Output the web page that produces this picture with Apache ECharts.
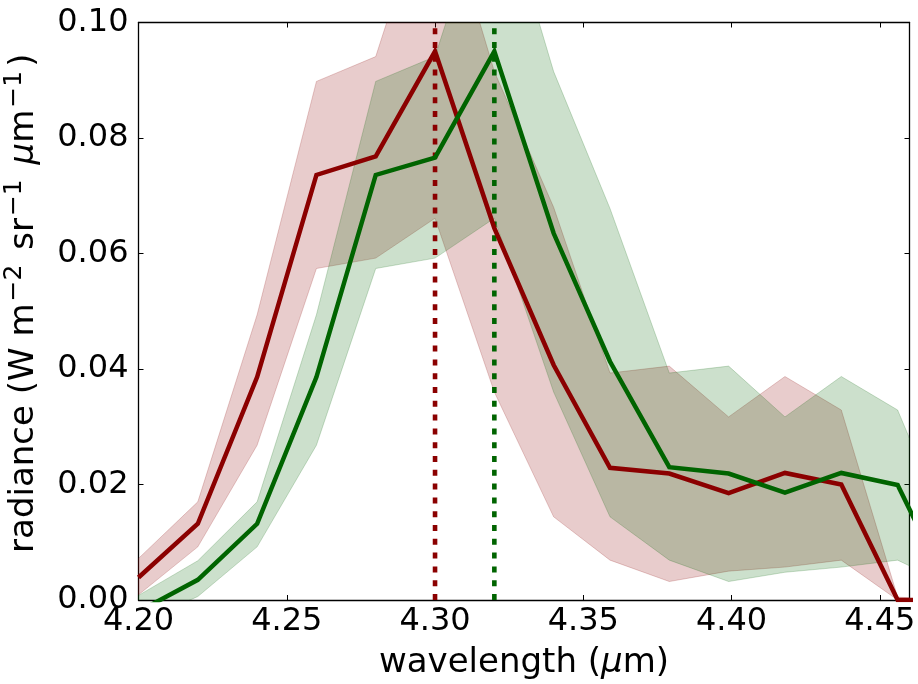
<!DOCTYPE html>
<html>
<head>
<meta charset="utf-8">
<script src="https://cdn.jsdelivr.net/npm/echarts@6/dist/echarts.min.js"></script>
<style>
html,body{margin:0;padding:0;background:#fff;}
#chart{width:918px;height:684px;}
</style>
</head>
<body>
<div id="chart"></div>
<script>
// ---- data ----
const wavelength = [4.20, 4.22, 4.24, 4.26, 4.28, 4.30, 4.32, 4.34, 4.359, 4.379, 4.399, 4.418, 4.437, 4.456, 4.475];

const redMean  = [0.0039, 0.0132, 0.0386, 0.0736, 0.0768, 0.0950, 0.0644, 0.0407, 0.0229, 0.0219, 0.0185, 0.0220, 0.0200, 0.0000, 0.0000];
const redUpper = [0.0072, 0.0170, 0.0494, 0.0898, 0.0941, 0.1260, 0.0915, 0.0680, 0.0393, 0.0405, 0.0317, 0.0387, 0.0329, 0.0005, 0.0000];
const redLower = [0.0009, 0.0092, 0.0268, 0.0574, 0.0592, 0.0661, 0.0360, 0.0144, 0.0069, 0.0032, 0.0050, 0.0057, 0.0069, 0.0000, 0.0000];

const greenMean  = [-0.0020, 0.0035, 0.0132, 0.0386, 0.0736, 0.0766, 0.0950, 0.0635, 0.0413, 0.0230, 0.0219, 0.0186, 0.0220, 0.0199, 0.0000];
const greenUpper = [0.0008, 0.0068, 0.0170, 0.0494, 0.0898, 0.0941, 0.1260, 0.0915, 0.0678, 0.0393, 0.0405, 0.0317, 0.0387, 0.0329, 0.0097];
const greenLower = [-0.0040, 0.0006, 0.0092, 0.0268, 0.0574, 0.0592, 0.0661, 0.0360, 0.0144, 0.0069, 0.0032, 0.0048, 0.0057, 0.0069, 0.0022];

const peakWavelengths = [4.30, 4.32];

const xTickLabels = ['4.20', '4.25', '4.30', '4.35', '4.40', '4.45'];
const yTickLabels = ['0.00', '0.02', '0.04', '0.06', '0.08', '0.10'];

const xMin = 4.20, xMax = 4.46, xStep = 0.05;
const yMin = 0.00, yMax = 0.10, yStep = 0.02;

const RED = '#8b0000';
const GREEN = '#006400';
const FONT = 'DejaVu Sans';

// ---- helpers ----
function bandSeries(lo, hi, fill, stroke, z) {
  return {
    type: 'custom',
    xAxisIndex: 0, yAxisIndex: 0,
    clip: true, silent: true, z: z,
    data: wavelength.map((x, i) => [x, lo[i], hi[i]]),
    encode: { x: 0, y: [1, 2] },
    renderItem: function (params, api) {
      if (params.dataIndex !== 0) return null;
      const pts = [];
      for (let i = 0; i < wavelength.length; i++) pts.push(api.coord([wavelength[i], hi[i]]));
      for (let i = wavelength.length - 1; i >= 0; i--) pts.push(api.coord([wavelength[i], lo[i]]));
      return {
        type: 'polygon',
        shape: { points: pts },
        style: { fill: fill, stroke: stroke, lineWidth: 1 }
      };
    }
  };
}

function meanSeries(vals, color) {
  return {
    type: 'line', xAxisIndex: 0, yAxisIndex: 0,
    data: wavelength.map((x, i) => [x, vals[i]]),
    symbol: 'none', showSymbol: false, clip: true, z: 5,
    lineStyle: { color: color, width: 4.5, cap: 'butt', join: 'miter' },
    silent: true
  };
}

function peakSeries(x, color) {
  return {
    type: 'line', xAxisIndex: 0, yAxisIndex: 0,
    data: [[x, yMin], [x, yMax]],
    symbol: 'none', showSymbol: false, clip: true, z: 4,
    lineStyle: { color: color, width: 4.6, type: [6, 7.8], cap: 'butt' },
    silent: true
  };
}

function findLabel(list, v) {
  const s = v.toFixed(2);
  return list.indexOf(s) >= 0 ? s : '';
}

const axisLineStyle = { show: true, onZero: false, lineStyle: { color: '#000', width: 1.3 } };
const tickStyle = { show: true, inside: true, length: 5, lineStyle: { color: '#000', width: 1 } };

const option = {
  animation: false,
  backgroundColor: '#ffffff',
  grid: { left: 138.5, right: 8.5, top: 22.5, bottom: 84, containLabel: false, outerBoundsMode: 'none' },
  xAxis: [
    {
      type: 'value', position: 'bottom', min: xMin, max: xMax, interval: xStep,
      axisLine: axisLineStyle, axisTick: tickStyle,
      splitLine: { show: false },
      axisLabel: {
        show: true, color: '#000', fontSize: 32, fontFamily: FONT, margin: 6,
        showMaxLabel: false,
        formatter: v => findLabel(xTickLabels, v)
      },
      name: 'wavelength ({u|μ}m)',
      nameLocation: 'middle', nameGap: 46,
      nameTextStyle: {
        color: '#000', fontSize: 34, fontFamily: FONT,
        rich: { u: { fontSize: 34, fontFamily: FONT, fontStyle: 'italic', color: '#000' } }
      }
    },
    {
      type: 'value', position: 'top', min: xMin, max: xMax, interval: xStep,
      axisLine: axisLineStyle, axisTick: tickStyle,
      splitLine: { show: false }, axisLabel: { show: false }
    }
  ],
  yAxis: [
    {
      type: 'value', position: 'left', min: yMin, max: yMax, interval: yStep,
      axisLine: axisLineStyle, axisTick: tickStyle,
      splitLine: { show: false },
      axisLabel: {
        show: true, color: '#000', fontSize: 32, fontFamily: FONT, margin: 10,
        formatter: v => findLabel(yTickLabels, v)
      },
      name: 'radiance (W m{s|−2} sr{s|−1} {u|μ}m{s|−1})',
      nameLocation: 'middle', nameGap: 86, nameRotate: 90,
      nameTextStyle: {
        color: '#000', fontSize: 34, fontFamily: FONT, lineHeight: 44,
        padding: [0, 0, 0, 16],
        rich: {
          s: { fontSize: 25, fontFamily: FONT, color: '#000', verticalAlign: 'top', lineHeight: 27, padding: [0, 4, 0, 2] },
          u: { fontSize: 34, fontFamily: FONT, color: '#000', fontStyle: 'italic', lineHeight: 44 }
        }
      }
    },
    {
      type: 'value', position: 'right', min: yMin, max: yMax, interval: yStep,
      axisLine: axisLineStyle, axisTick: tickStyle,
      splitLine: { show: false }, axisLabel: { show: false }
    }
  ],
  series: [
    bandSeries(redLower, redUpper, 'rgba(139,0,0,0.2)', 'rgba(139,0,0,0.2)', 1),
    bandSeries(greenLower, greenUpper, 'rgba(0,100,0,0.2)', 'rgba(0,100,0,0.2)', 2),
    meanSeries(redMean, RED),
    meanSeries(greenMean, GREEN),
    peakSeries(peakWavelengths[0], RED),
    peakSeries(peakWavelengths[1], GREEN)
  ]
};

const chart = echarts.init(document.getElementById('chart'), null, { renderer: 'canvas', width: 918, height: 684 });
chart.setOption(option);
</script>
</body>
</html>
